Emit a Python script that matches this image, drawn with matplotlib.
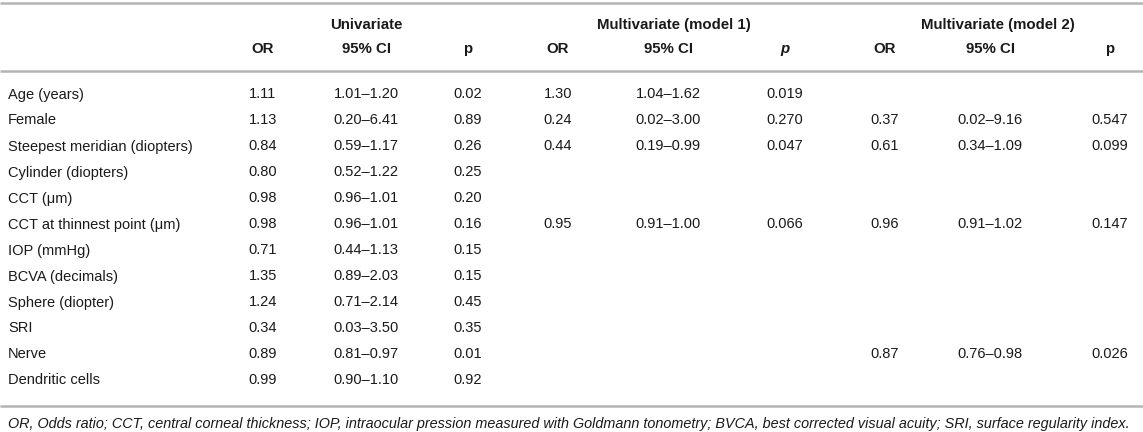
import matplotlib
matplotlib.use("Agg")
import matplotlib.pyplot as plt

plt.rcParams['font.family'] = ['Liberation Sans', 'DejaVu Sans']

variables = ["Age (years)", "Female", "Steepest meridian (diopters)", "Cylinder (diopters)",
             "CCT (\u03bcm)", "CCT at thinnest point (\u03bcm)", "IOP (mmHg)", "BCVA (decimals)",
             "Sphere (diopter)", "SRI", "Nerve", "Dendritic cells"]

uni_or = ["1.11", "1.13", "0.84", "0.80", "0.98", "0.98", "0.71", "1.35", "1.24", "0.34", "0.89", "0.99"]
uni_ci = ["1.01\u20131.20", "0.20\u20136.41", "0.59\u20131.17", "0.52\u20131.22", "0.96\u20131.01",
          "0.96\u20131.01", "0.44\u20131.13", "0.89\u20132.03", "0.71\u20132.14", "0.03\u20133.50",
          "0.81\u20130.97", "0.90\u20131.10"]
uni_p = ["0.02", "0.89", "0.26", "0.25", "0.20", "0.16", "0.15", "0.15", "0.45", "0.35", "0.01", "0.92"]

m1_or = ["1.30", "0.24", "0.44", "", "", "0.95", "", "", "", "", "", ""]
m1_ci = ["1.04\u20131.62", "0.02\u20133.00", "0.19\u20130.99", "", "", "0.91\u20131.00", "", "", "", "", "", ""]
m1_p = ["0.019", "0.270", "0.047", "", "", "0.066", "", "", "", "", "", ""]

m2_or = ["", "0.37", "0.61", "", "", "0.96", "", "", "", "", "0.87", ""]
m2_ci = ["", "0.02\u20139.16", "0.34\u20131.09", "", "", "0.91\u20131.02", "", "", "", "", "0.76\u20130.98", ""]
m2_p = ["", "0.547", "0.099", "", "", "0.147", "", "", "", "", "0.026", ""]

group_titles = ["Univariate", "Multivariate (model 1)", "Multivariate (model 2)"]
sub_headers = ["OR", "95% CI", "p"]

footnote = ("OR, Odds ratio; CCT, central corneal thickness; IOP, intraocular pression measured with "
            "Goldmann tonometry; BVCA, best corrected visual acuity; SRI, surface regularity index.")

W, H = 1143, 432
fig = plt.figure(figsize=(W / 100, H / 100), dpi=100)
ax = fig.add_axes([0, 0, 1, 1])
ax.set_xlim(0, W)
ax.set_ylim(H, 0)
ax.axis('off')

col_x = [263, 366, 468, 558, 668, 785, 885, 990, 1110]
group_x = [366, 674, 998]
label_x = 8
y_h1, y_h2 = 25, 49
y0, dy = 94.5, 26
fs = 10.5
fs_head = 10.8
line_color = "#b4b4b4"
text_color = "#1a1a1a"

ax.plot([0, W], [3, 3], color=line_color, lw=1.8, solid_capstyle='butt')
ax.plot([0, W], [71, 71], color=line_color, lw=1.8, solid_capstyle='butt')
ax.plot([0, W], [406, 406], color=line_color, lw=1.8, solid_capstyle='butt')

for gx, t in zip(group_x, group_titles):
    ax.text(gx, y_h1, t, ha='center', va='center', fontsize=fs_head, fontweight='bold', color=text_color)

for g in range(3):
    for k, h in enumerate(sub_headers):
        style = 'italic' if (g == 1 and k == 2) else 'normal'
        ax.text(col_x[g * 3 + k], y_h2, h, ha='center', va='center', fontsize=fs_head,
                fontweight='bold', fontstyle=style, color=text_color)

cols = [uni_or, uni_ci, uni_p, m1_or, m1_ci, m1_p, m2_or, m2_ci, m2_p]
for i, name in enumerate(variables):
    y = y0 + i * dy
    ax.text(label_x, y, name, ha='left', va='center', fontsize=fs, color=text_color)
    for cx, col in zip(col_x, cols):
        if col[i]:
            ax.text(cx, y, col[i], ha='center', va='center', fontsize=fs, color=text_color)

ax.text(label_x, 424, footnote, ha='left', va='center', fontsize=10.4, fontstyle='italic', color=text_color)

fig.savefig("out.png", dpi=100)
